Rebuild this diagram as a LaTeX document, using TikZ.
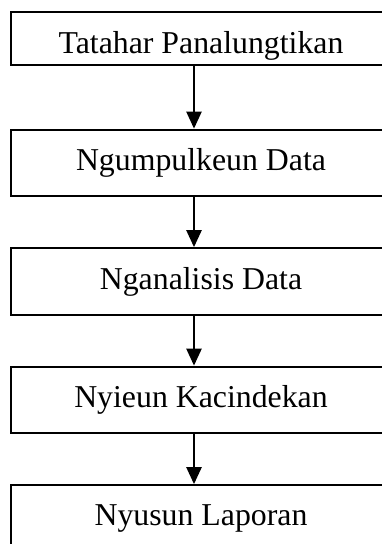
\documentclass[tikz,border=0pt]{standalone}
\usepackage{fontspec}
\setmainfont{Liberation Serif}
\usepackage{tikz}
\usetikzlibrary{shapes.geometric, arrows.meta}
\usetikzlibrary{positioning}
\tikzstyle{process} = [rectangle, minimum width=380pt, minimum height=66.5pt, text centered, draw=black, line width=2.2pt, font=\fontsize{31.8}{37}\selectfont]
\tikzstyle{arrow} = [line width=2.4pt, -{Triangle[length=17pt, width=15pt]}]

\begin{document}
\begin{tikzpicture}[node distance=118.5pt, x=1pt, y=1pt]
\useasboundingbox (0,0) rectangle (381,-544);
\node (tatahar) [process, minimum height=53.5pt, text height=30pt, text depth=0pt] at (201,-38.4) {Tatahar Panalungtikan};
\node (ngumpul) [process, below of=tatahar, yshift=-6.1pt] {Ngumpulkeun Data};
\node (analisis) [process, below of=ngumpul] {Nganalisis Data};
\node (kacindekan) [process, below of=analisis] {Nyieun Kacindekan};
\node (laporan) [process, below of=kacindekan] {Nyusun Laporan};
\draw [arrow] ([xshift=-7pt]tatahar.south) -- ([xshift=-7pt]ngumpul.north);
\draw [arrow] ([xshift=-7pt]ngumpul.south) -- ([xshift=-7pt]analisis.north);
\draw [arrow] ([xshift=-7pt]analisis.south) -- ([xshift=-7pt]kacindekan.north);
\draw [arrow] ([xshift=-7pt]kacindekan.south) -- ([xshift=-7pt]laporan.north);
\end{tikzpicture}
\end{document}
